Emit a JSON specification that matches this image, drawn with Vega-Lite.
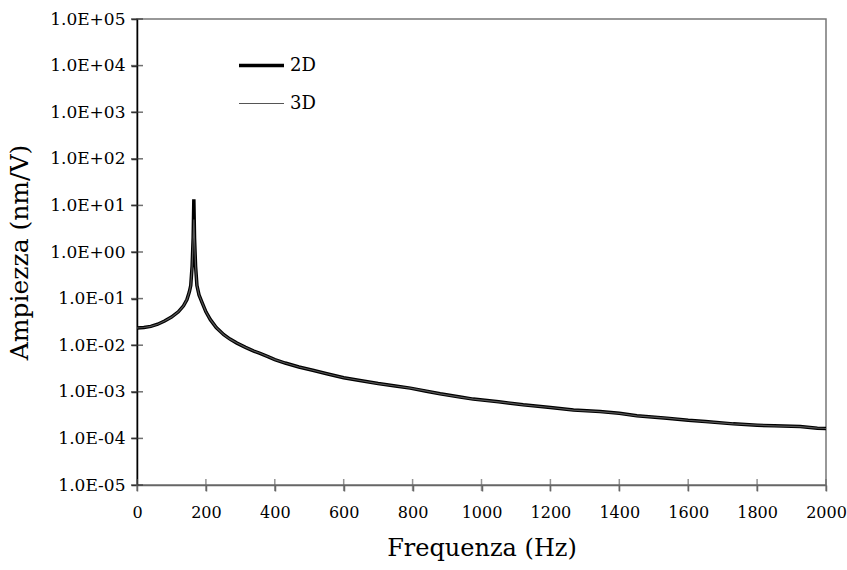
{
  "$schema": "https://vega.github.io/schema/vega-lite/v6.json",
  "width": 689,
  "height": 466,
  "autosize": "none",
  "padding": {"left": 137, "top": 19, "right": 21, "bottom": 85},
  "background": "white",
  "config": {
    "view": {"stroke": "#777777", "strokeWidth": 1.5},
    "font": "DejaVu Serif",
    "axis": {"grid": false}
  },
  "datasets": {
    "xticks": [{"v": 0}, {"v": 200}, {"v": 400}, {"v": 600}, {"v": 800}, {"v": 1000}, {"v": 1200}, {"v": 1400}, {"v": 1600}, {"v": 1800}, {"v": 2000}],
    "yticks": [{"v": 0.00001}, {"v": 0.0001}, {"v": 0.001}, {"v": 0.01}, {"v": 0.1}, {"v": 1}, {"v": 10}, {"v": 100}, {"v": 1000}, {"v": 10000}, {"v": 100000}],
    "curves": [
      {"f": 0, "A": 0.0234, "serie": "2D"}, {"f": 20, "A": 0.024, "serie": "2D"}, {"f": 40, "A": 0.0253, "serie": "2D"}, {"f": 60, "A": 0.0282, "serie": "2D"}, {"f": 80, "A": 0.033, "serie": "2D"}, {"f": 100, "A": 0.04, "serie": "2D"}, {"f": 120, "A": 0.052, "serie": "2D"}, {"f": 135, "A": 0.07, "serie": "2D"}, {"f": 145, "A": 0.095, "serie": "2D"}, {"f": 152, "A": 0.14, "serie": "2D"}, {"f": 156, "A": 0.19, "serie": "2D"}, {"f": 160, "A": 0.5, "serie": "2D"}, {"f": 163, "A": 2.0, "serie": "2D"}, {"f": 165, "A": 13.5, "serie": "2D"}, {"f": 167, "A": 2.0, "serie": "2D"}, {"f": 170, "A": 0.5, "serie": "2D"}, {"f": 174, "A": 0.19, "serie": "2D"}, {"f": 180, "A": 0.12, "serie": "2D"}, {"f": 189, "A": 0.082, "serie": "2D"}, {"f": 200, "A": 0.052, "serie": "2D"}, {"f": 213, "A": 0.0353, "serie": "2D"}, {"f": 230, "A": 0.024, "serie": "2D"}, {"f": 252, "A": 0.0168, "serie": "2D"}, {"f": 270, "A": 0.0135, "serie": "2D"}, {"f": 290, "A": 0.0111, "serie": "2D"}, {"f": 315, "A": 0.009, "serie": "2D"}, {"f": 339, "A": 0.0075, "serie": "2D"}, {"f": 357, "A": 0.0067, "serie": "2D"}, {"f": 380, "A": 0.0057, "serie": "2D"}, {"f": 400, "A": 0.0049, "serie": "2D"}, {"f": 430, "A": 0.00414, "serie": "2D"}, {"f": 470, "A": 0.0034, "serie": "2D"}, {"f": 510, "A": 0.0029, "serie": "2D"}, {"f": 551, "A": 0.00244, "serie": "2D"}, {"f": 600, "A": 0.002, "serie": "2D"}, {"f": 647, "A": 0.00175, "serie": "2D"}, {"f": 700, "A": 0.0015, "serie": "2D"}, {"f": 750, "A": 0.00133, "serie": "2D"}, {"f": 793, "A": 0.0012, "serie": "2D"}, {"f": 840, "A": 0.00103, "serie": "2D"}, {"f": 880, "A": 0.000906, "serie": "2D"}, {"f": 938, "A": 0.00077, "serie": "2D"}, {"f": 976, "A": 0.000697, "serie": "2D"}, {"f": 1050, "A": 0.00061, "serie": "2D"}, {"f": 1121, "A": 0.000525, "serie": "2D"}, {"f": 1200, "A": 0.00046, "serie": "2D"}, {"f": 1267, "A": 0.000405, "serie": "2D"}, {"f": 1344, "A": 0.000377, "serie": "2D"}, {"f": 1400, "A": 0.000345, "serie": "2D"}, {"f": 1451, "A": 0.000305, "serie": "2D"}, {"f": 1538, "A": 0.000272, "serie": "2D"}, {"f": 1600, "A": 0.000245, "serie": "2D"}, {"f": 1650, "A": 0.00023, "serie": "2D"}, {"f": 1731, "A": 0.000205, "serie": "2D"}, {"f": 1800, "A": 0.000192, "serie": "2D"}, {"f": 1850, "A": 0.000186, "serie": "2D"}, {"f": 1925, "A": 0.000179, "serie": "2D"}, {"f": 1975, "A": 0.000166, "serie": "2D"}, {"f": 2000, "A": 0.000163, "serie": "2D"},
      {"f": 0, "A": 0.0234, "serie": "3D"}, {"f": 20, "A": 0.024, "serie": "3D"}, {"f": 40, "A": 0.0253, "serie": "3D"}, {"f": 60, "A": 0.0282, "serie": "3D"}, {"f": 80, "A": 0.033, "serie": "3D"}, {"f": 100, "A": 0.04, "serie": "3D"}, {"f": 120, "A": 0.052, "serie": "3D"}, {"f": 135, "A": 0.07, "serie": "3D"}, {"f": 145, "A": 0.095, "serie": "3D"}, {"f": 152, "A": 0.14, "serie": "3D"}, {"f": 156, "A": 0.19, "serie": "3D"}, {"f": 160, "A": 0.5, "serie": "3D"}, {"f": 163, "A": 1.8, "serie": "3D"}, {"f": 165, "A": 5.0, "serie": "3D"}, {"f": 167, "A": 1.8, "serie": "3D"}, {"f": 170, "A": 0.5, "serie": "3D"}, {"f": 174, "A": 0.19, "serie": "3D"}, {"f": 180, "A": 0.12, "serie": "3D"}, {"f": 189, "A": 0.082, "serie": "3D"}, {"f": 200, "A": 0.052, "serie": "3D"}, {"f": 213, "A": 0.0353, "serie": "3D"}, {"f": 230, "A": 0.024, "serie": "3D"}, {"f": 252, "A": 0.0168, "serie": "3D"}, {"f": 270, "A": 0.0135, "serie": "3D"}, {"f": 290, "A": 0.0111, "serie": "3D"}, {"f": 315, "A": 0.009, "serie": "3D"}, {"f": 339, "A": 0.0075, "serie": "3D"}, {"f": 357, "A": 0.0067, "serie": "3D"}, {"f": 380, "A": 0.0057, "serie": "3D"}, {"f": 400, "A": 0.0049, "serie": "3D"}, {"f": 430, "A": 0.00414, "serie": "3D"}, {"f": 470, "A": 0.0034, "serie": "3D"}, {"f": 510, "A": 0.0029, "serie": "3D"}, {"f": 551, "A": 0.00244, "serie": "3D"}, {"f": 600, "A": 0.002, "serie": "3D"}, {"f": 647, "A": 0.00175, "serie": "3D"}, {"f": 700, "A": 0.0015, "serie": "3D"}, {"f": 750, "A": 0.00133, "serie": "3D"}, {"f": 793, "A": 0.0012, "serie": "3D"}, {"f": 840, "A": 0.00103, "serie": "3D"}, {"f": 880, "A": 0.000906, "serie": "3D"}, {"f": 938, "A": 0.00077, "serie": "3D"}, {"f": 976, "A": 0.000697, "serie": "3D"}, {"f": 1050, "A": 0.00061, "serie": "3D"}, {"f": 1121, "A": 0.000525, "serie": "3D"}, {"f": 1200, "A": 0.00046, "serie": "3D"}, {"f": 1267, "A": 0.000405, "serie": "3D"}, {"f": 1344, "A": 0.000377, "serie": "3D"}, {"f": 1400, "A": 0.000345, "serie": "3D"}, {"f": 1451, "A": 0.000305, "serie": "3D"}, {"f": 1538, "A": 0.000272, "serie": "3D"}, {"f": 1600, "A": 0.000245, "serie": "3D"}, {"f": 1650, "A": 0.00023, "serie": "3D"}, {"f": 1731, "A": 0.000205, "serie": "3D"}, {"f": 1800, "A": 0.000192, "serie": "3D"}, {"f": 1850, "A": 0.000186, "serie": "3D"}, {"f": 1925, "A": 0.000179, "serie": "3D"}, {"f": 1975, "A": 0.000166, "serie": "3D"}, {"f": 2000, "A": 0.000163, "serie": "3D"}
    ]
  },
  "layer": [
    {
      "data": {"name": "curves"},
      "mark": {"type": "line", "clip": true},
      "encoding": {
        "x": {
          "field": "f", "type": "quantitative",
          "scale": {"domain": [0, 2000], "nice": false, "zero": false},
          "axis": {
            "orient": "bottom", "values": [0, 200, 400, 600, 800, 1000, 1200, 1400, 1600, 1800, 2000], "format": "d",
            "title": "Frequenza (Hz)", "titleFont": "DejaVu Serif", "titleFontSize": 24, "titleFontWeight": "normal", "titleColor": "black", "titlePadding": 16,
            "labelFont": "DejaVu Serif", "labelFontSize": 16, "labelColor": "black", "labelPadding": 13, "labelFlush": false,
            "domainColor": "#666666", "domainWidth": 1.5, "tickColor": "#666666", "tickWidth": 1.5, "tickSize": 6
          }
        },
        "y": {
          "field": "A", "type": "quantitative",
          "scale": {"type": "log", "domain": [0.00001, 100000], "nice": false},
          "axis": {
            "orient": "left", "values": [0.00001, 0.0001, 0.001, 0.01, 0.1, 1, 10, 100, 1000, 10000, 100000],
            "labelExpr": "'1.0E' + (datum.value >= 0.999 ? '+' : '-') + (abs(round(log(datum.value) / LN10)) < 10 ? '0' : '') + abs(round(log(datum.value) / LN10))",
            "title": "Ampiezza (nm/V)", "titleFont": "DejaVu Serif", "titleFontSize": 25, "titleFontWeight": "normal", "titleColor": "black", "titlePadding": 17,
            "labelFont": "DejaVu Serif", "labelFontSize": 17, "labelColor": "black", "labelPadding": 6, "labelFlush": false,
            "domainColor": "black", "domainWidth": 1.5, "tickColor": "#333333", "tickWidth": 1.5, "tickSize": 6
          }
        },
        "color": {
          "field": "serie", "type": "nominal",
          "scale": {"domain": ["2D", "3D"], "range": ["black", "#555555"]},
          "legend": {
            "title": null, "orient": "none", "legendX": 100, "legendY": 22,
            "symbolType": "stroke", "symbolSize": 2025, "labelFont": "DejaVu Serif", "labelFontSize": 18,
            "labelColor": "black", "labelOffset": 4, "rowPadding": 5
          }
        },
        "strokeWidth": {
          "field": "serie", "type": "nominal",
          "scale": {"type": "ordinal", "domain": ["2D", "3D"], "range": [3.5, 1.2]},
          "legend": null
        }
      }
    },
    {
      "data": {"name": "yticks"},
      "mark": {"type": "tick", "orient": "horizontal", "size": 12, "thickness": 1.5, "color": "#333333", "clip": false},
      "encoding": {
        "x": {"datum": 0, "type": "quantitative", "axis": null},
        "y": {"field": "v", "type": "quantitative", "axis": null}
      }
    },
    {
      "data": {"name": "xticks"},
      "mark": {"type": "tick", "orient": "vertical", "size": 12, "thickness": 1.5, "color": "#666666", "clip": false},
      "encoding": {
        "x": {"field": "v", "type": "quantitative", "axis": null},
        "y": {"datum": 0.00001, "type": "quantitative", "axis": null}
      }
    }
  ],
  "resolve": {"axis": {"x": "independent", "y": "independent"}}
}
